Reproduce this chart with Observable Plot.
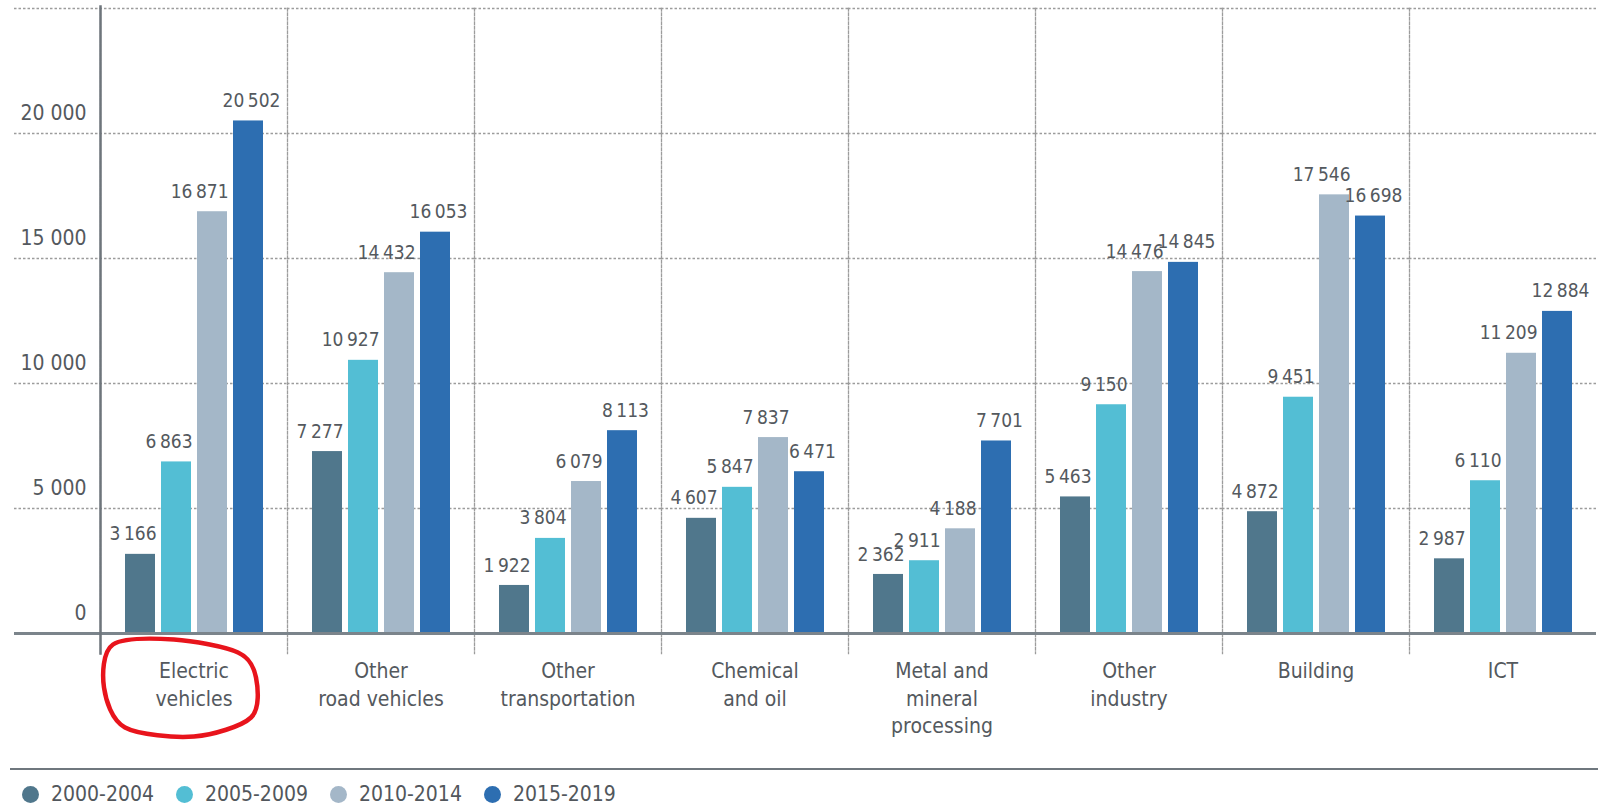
<!DOCTYPE html>
<html>
<head>
<meta charset="utf-8">
<script src="https://cdn.jsdelivr.net/npm/d3@7"></script>
<script src="https://cdn.jsdelivr.net/npm/@observablehq/plot@0.6"></script>
<style>
  html, body { margin: 0; padding: 0; background: #fff; }
  body { width: 1598px; height: 806px; overflow: hidden; font-family: "DejaVu Sans Condensed", "DejaVu Sans", sans-serif; font-stretch: condensed; }
  #chart svg { display: block; }
  #legendWrap { margin-top: 2px; margin-left: 10px; border-top: 2px solid #6f777e; height: 34px; }
  #legend { display: flex; align-items: center; height: 24px; padding-top: 12px; padding-left: 12px; font-size: 21px; color: #52575c; }
  .item { display: flex; align-items: center; margin-right: 22px; }
  .sw { width: 17px; height: 17px; border-radius: 50%; margin-right: 12px; }
</style>
</head>
<body>
<div id="chart"></div>
<div id="legendWrap"><div id="legend"></div></div>
<script>
// ---- data ----
const categories = ["Electric vehicles", "Other road vehicles", "Other transportation", "Chemical and oil",
  "Metal and mineral processing", "Other industry", "Building", "ICT"];
const categoryLabels = ["Electric\nvehicles", "Other\nroad vehicles", "Other\ntransportation", "Chemical\nand oil",
  "Metal and\nmineral\nprocessing", "Other\nindustry", "Building", "ICT"];
const periods = ["2000-2004", "2005-2009", "2010-2014", "2015-2019"];
const values2000 = [3166, 7277, 1922, 4607, 2362, 5463, 4872, 2987];
const values2005 = [6863, 10927, 3804, 5847, 2911, 9150, 9451, 6110];
const values2010 = [16871, 14432, 6079, 7837, 4188, 14476, 17546, 11209];
const values2015 = [20502, 16053, 8113, 6471, 7701, 14845, 16698, 12884];
const colors = ["#50778c", "#53bed4", "#a4b7c8", "#2d6eb1"];
const yLabelTicks = [0, 5000, 10000, 15000, 20000];
const yGridTicks = [5000, 10000, 15000, 20000, 25000];
const highlighted = "Electric vehicles";

// ---- derived tables ----
const series = [values2000, values2005, values2010, values2015];
const rows = categories.flatMap((c, i) => periods.map((p, j) => ({category: c, period: p, value: series[j][i]})));
const labelRows = categories.map((c, i) => ({category: c, label: categoryLabels[i]}));
const gridOther = categories.slice(1).flatMap(c => yGridTicks.map(v => ({category: c, v})));
const gridFirst = yGridTicks.map(v => ({category: categories[0], v}));
const tickRows = yLabelTicks.map(v => ({category: categories[0], v}));
const lastPeriod = periods[periods.length - 1];

const fmtTick = d3.formatLocale({thousands: "\u00a0", grouping: [3], decimal: ".", currency: ["", ""]}).format(",");
const fmtValue = d3.formatLocale({thousands: "\u2009", grouping: [3], decimal: ".", currency: ["", ""]}).format(",");

// hand-drawn style loop for the highlight
const loopPts = [[-67, -45], [-6, -50], [58, -37], [76, -12], [71, 28], [14, 47], [-55, 38], [-76, -2]];
const loopSymbol = {
  draw(context) {
    d3.line().curve(d3.curveCardinalClosed.tension(0.1)).context(context)(loopPts);
  }
};

const textColor = "#54595e";
const gridStyle = {stroke: "#9c9c9c", strokeWidth: 1.3, strokeDasharray: "2.5,2"};

const chart = Plot.plot({
  width: 1598,
  height: 766,
  marginLeft: 98,
  marginRight: 0,
  marginTop: 8,
  marginBottom: 133,
  style: {fontFamily: "'DejaVu Sans Condensed', 'DejaVu Sans', sans-serif", fontStretch: "condensed", background: "#fff"},
  fx: {domain: categories, padding: 0, axis: null},
  x: {domain: periods, paddingInner: 0.17, paddingOuter: 0.64, axis: null},
  y: {domain: [0, 25000], axis: null},
  color: {domain: periods, range: colors},
  marks: [
    // horizontal dotted grid
    Plot.ruleY(gridOther, {fx: "category", y: "v", ...gridStyle}),
    Plot.ruleY(gridFirst, {fx: "category", y: "v", insetLeft: -86, ...gridStyle}),
    // vertical dotted separators between categories
    Plot.frame({anchor: "left", stroke: "#9c9c9c", strokeWidth: 1.3, strokeDasharray: "2.5,2", insetBottom: -20}),
    // bars
    Plot.barY(rows, {fx: "category", x: "period", y: "value", fill: "period"}),
    // baseline
    Plot.ruleY([0], {stroke: "#7b848b", strokeWidth: 3}),
    Plot.ruleY(tickRows.slice(0, 1), {fx: "category", y: "v", insetLeft: -86, stroke: "#7b848b", strokeWidth: 3}),
    // y axis line
    Plot.frame({fx: () => categories[0], anchor: "left", stroke: "#6e757b", strokeWidth: 2.5, insetTop: -2, insetBottom: -20}),
    // y tick labels
    Plot.text(tickRows, {fx: "category", y: "v", text: d => fmtTick(d.v), frameAnchor: "left", textAnchor: "end",
      dx: -14, dy: -20, fontSize: 21, fill: textColor}),
    // value labels: right-aligned on the bar for the first periods, centred for the last
    Plot.text(rows.filter(d => d.period !== lastPeriod), {fx: "category", x: "period", y: "value",
      text: d => fmtValue(d.value), textAnchor: "end", dx: 16, dy: -20, fontSize: 19, fill: textColor}),
    Plot.text(rows.filter(d => d.period === lastPeriod), {fx: "category", x: "period", y: "value",
      text: d => fmtValue(d.value), dx: 3, dy: -20, fontSize: 19, fill: textColor}),
    // category labels
    Plot.text(labelRows, {fx: "category", text: "label", frameAnchor: "bottom", lineAnchor: "top",
      lineHeight: 1.31, dy: 25, fontSize: 21, fill: textColor}),
    // red highlight loop
    Plot.dot(labelRows.filter(d => d.category === highlighted), {fx: "category", frameAnchor: "bottom",
      symbol: loopSymbol, r: 10, dx: -14, dy: 56, stroke: "#e8141c", strokeWidth: 4.5, fill: "none"})
  ]
});
document.getElementById("chart").appendChild(chart);

const legend = document.getElementById("legend");
periods.forEach((p, i) => {
  const item = document.createElement("div");
  item.className = "item";
  const sw = document.createElement("span");
  sw.className = "sw";
  sw.style.background = colors[i];
  const t = document.createElement("span");
  t.textContent = p;
  item.appendChild(sw);
  item.appendChild(t);
  legend.appendChild(item);
});
</script>
</body>
</html>
